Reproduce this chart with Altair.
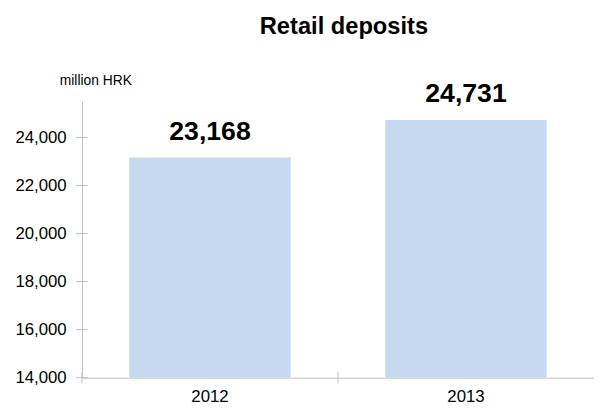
import altair as alt
import pandas as pd

years = ["2012", "2013"]
deposits = [23168, 24731]
y_ticks = [14000, 16000, 18000, 20000, 22000, 24000]
y_domain = [14000, 25500]

bars_df = pd.DataFrame({"year": years, "value": deposits})
ticks_df = pd.DataFrame({"value": y_ticks})

W, H = 519, 280
GRAY = "#bfbfbf"
FONT = "Liberation Sans"
BAR = "#c6d9f0"

x_enc = alt.X(
    "year:N",
    scale=alt.Scale(paddingInner=0, paddingOuter=0),
    axis=alt.Axis(
        title=None, ticks=False, domainColor=GRAY, labelFont=FONT,
        labelFontSize=17, labelColor="#000", labelPadding=11, labelAngle=0,
    ),
)
y_enc = alt.Y(
    "value:Q",
    scale=alt.Scale(domain=y_domain, nice=False, zero=False),
    axis=alt.Axis(
        values=y_ticks, format=",.0f", ticks=False, grid=False, domainColor=GRAY,
        labelFont=FONT, labelFontSize=17, labelColor="#000", labelPadding=16,
        title="million HRK", titleAngle=0, titleAlign="left", titleX=-23,
        titleY=-17, titleBaseline="alphabetic", titleFontWeight="normal",
        titleFontSize=14, titleFont=FONT, titleColor="#000",
    ),
)

base = alt.Chart(bars_df)
bars = base.mark_bar(color=BAR, width={"band": 0.63}).encode(
    x=x_enc, y=y_enc, y2=alt.datum(y_domain[0])
)
text = base.mark_text(
    font=FONT, fontSize=27, fontWeight="bold", color="#000",
    baseline="alphabetic", dy=-18,
).encode(
    x="year:N",
    y="value:Q",
    text=alt.Text("value:Q", format=",.0f"),
)

ytick_rules = alt.Chart(ticks_df).mark_rule(color=GRAY).encode(
    y="value:Q", x=alt.value(-6), x2=alt.value(6)
)
xtick_rules = base.mark_rule(color=GRAY).encode(
    x=alt.X("year:N", bandPosition=0),
    y=alt.value(H - 6), y2=alt.value(H + 6),
)

chart = alt.layer(bars, text, ytick_rules, xtick_rules).properties(
    width=W, height=H,
    title=alt.TitleParams(
        "Retail deposits", font=FONT, fontSize=24, fontWeight="bold",
        color="#000", anchor="middle", offset=35, dx=6,
    ),
    autosize=alt.AutoSizeParams(type="none"),
    padding={"left": 75, "top": 92, "right": 0, "bottom": 29},
).configure_view(stroke=None)

chart.save("out.html", embed_options={"renderer": "svg", "actions": False})
